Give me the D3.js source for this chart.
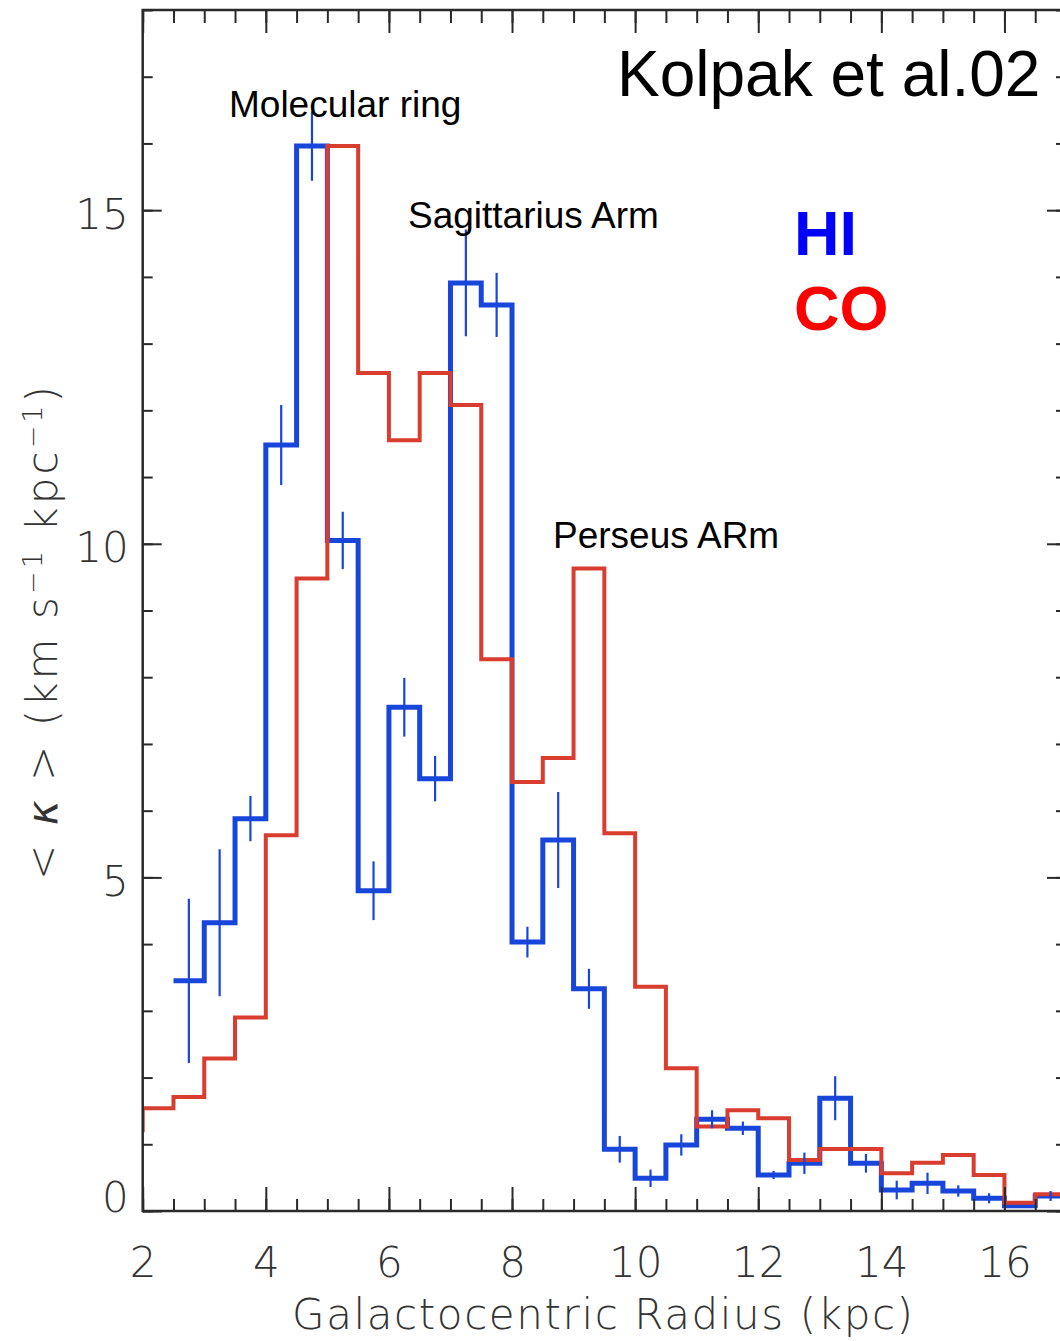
<!DOCTYPE html>
<html>
<head>
<meta charset="utf-8">
<script src="https://cdn.jsdelivr.net/npm/d3@7"></script>
<style>
  html, body { margin: 0; padding: 0; background: #ffffff; }
  svg { display: block; }
  .axis-font { font-family: "DejaVu Sans", "Liberation Sans", sans-serif; font-weight: 200; }
</style>
</head>
<body>
<div id="chart"></div>
<script>
// Mean HI (blue) and CO (red) kinematic signal per 0.5 kpc radial bin.
const hiBinStarts = [2.5, 3, 3.5, 4, 4.5, 5, 5.5, 6, 6.5, 7, 7.5, 8, 8.5, 9, 9.5,
                     10, 10.5, 11, 11.5, 12, 12.5, 13, 13.5, 14, 14.5, 15, 15.5, 16, 16.5];
const hiValues = [3.45, 4.32, 5.88, 11.48, 15.96, 10.05, 4.80, 7.55, 6.48, 13.91, 13.58, 4.03, 5.56, 3.33, 0.925,
                  0.49, 0.99, 1.375, 1.24, 0.54, 0.715, 1.69, 0.715, 0.315, 0.415, 0.30, 0.19, 0.08, 0.225];
const hiErrors = [1.23, 1.10, 0.34, 0.60, 0.52, 0.43, 0.44, 0.44, 0.34, 0.80, 0.48, 0.23, 0.72, 0.30, 0.20,
                  0.13, 0.16, 0.135, 0.10, 0.06, 0.16, 0.33, 0.14, 0.14, 0.16, 0.085, 0.075, 0, 0.075];

const coBinStarts = [1.5, 2, 2.5, 3, 3.5, 4, 4.5, 5, 5.5, 6, 6.5, 7, 7.5, 8, 8.5, 9, 9.5,
                     10, 10.5, 11, 11.5, 12, 12.5, 13, 13.5, 14, 14.5, 15, 15.5, 16, 16.5];
const coValues = [1.21, 1.54, 1.71, 2.285, 2.90, 5.63, 9.48, 15.96, 12.56, 11.55, 12.56, 12.08, 8.27, 6.43, 6.79, 9.63, 5.66,
                  3.36, 2.14, 1.265, 1.51, 1.39, 0.765, 0.93, 0.93, 0.565, 0.725, 0.84, 0.54, 0.125, 0.25];

const binWidth = 0.5;
const xMajorTicks = [2, 4, 6, 8, 10, 12, 14, 16];
const yMajorTicks = [0, 5, 10, 15];

const W = 1060, H = 1341;
const plotL = 142.7, plotR = 1066, plotT = 10, plotB = 1211;

const x = d3.scaleLinear().domain([2, 17]).range([plotL, plotR]);
const y = d3.scaleLinear().domain([0, 18]).range([plotB, plotT]);

const svg = d3.select("#chart").append("svg")
  .attr("width", W).attr("height", H)
  .style("background", "#fff");

svg.append("defs").append("clipPath").attr("id", "plot-clip")
  .append("rect").attr("x", plotL).attr("y", plotT)
  .attr("width", plotR - plotL).attr("height", plotB - plotT);

// Step outline for a histogram: each bin runs from its start to start + width.
function stepPoints(starts, values) {
  const pts = starts.map((s, i) => [s, values[i]]);
  pts.push([starts[starts.length - 1] + binWidth, values[values.length - 1]]);
  return pts;
}
const stepLine = d3.line()
  .x(d => x(d[0])).y(d => y(d[1]))
  .curve(d3.curveStepAfter);

const plot = svg.append("g").attr("clip-path", "url(#plot-clip)");

const blue = "#1846da";
const red = "#d83d2f";

plot.append("path")
  .datum(stepPoints(hiBinStarts, hiValues))
  .attr("d", stepLine)
  .attr("fill", "none").attr("stroke", blue)
  .attr("stroke-width", 5).attr("stroke-linejoin", "miter");

plot.append("path")
  .datum(stepPoints(coBinStarts, coValues))
  .attr("d", stepLine)
  .attr("fill", "none").attr("stroke", red)
  .attr("stroke-width", 4).attr("stroke-linejoin", "miter");

// HI uncertainties at bin centres
plot.append("g").selectAll("line")
  .data(hiBinStarts.map((s, i) => ({ c: s + binWidth / 2, v: hiValues[i], e: hiErrors[i] })).filter(d => d.e > 0))
  .join("line")
  .attr("x1", d => x(d.c)).attr("x2", d => x(d.c))
  .attr("y1", d => y(d.v - d.e)).attr("y2", d => y(d.v + d.e))
  .attr("stroke", blue).attr("stroke-width", 2.2);

// Axes: major and minor ticks on all four sides, pointing inward
const frameColor = "#2a2a2a";
const xMinor = d3.range(2, 17.01, 0.5);
const yMinor = d3.range(0, 18.01, 1);

function styleAxis(g) {
  g.select(".domain").remove();
  g.selectAll(".tick line").attr("stroke", frameColor).attr("stroke-width", 2);
}

svg.append("g").attr("transform", `translate(0,${plotB})`)
  .call(d3.axisBottom(x).tickValues(xMinor).tickSize(-12).tickFormat(""))
  .call(styleAxis);
const xb = svg.append("g").attr("transform", `translate(0,${plotB})`)
  .call(d3.axisBottom(x).tickValues(xMajorTicks).tickSize(-24).tickPadding(36).tickFormat(d3.format("d")))
  .call(styleAxis);
xb.selectAll("text").attr("class", "axis-font").attr("font-size", 42).attr("fill", "#333");

svg.append("g").attr("transform", `translate(0,${plotT})`)
  .call(d3.axisTop(x).tickValues(xMinor).tickSize(-13).tickFormat(""))
  .call(styleAxis);
svg.append("g").attr("transform", `translate(0,${plotT})`)
  .call(d3.axisTop(x).tickValues(xMajorTicks).tickSize(-23).tickFormat(""))
  .call(styleAxis);

svg.append("g").attr("transform", `translate(${plotL},0)`)
  .call(d3.axisLeft(y).tickValues(yMinor).tickSize(-10).tickFormat(""))
  .call(styleAxis);
const yl = svg.append("g").attr("transform", `translate(${plotL},0)`)
  .call(d3.axisLeft(y).tickValues(yMajorTicks).tickSize(-19).tickPadding(14).tickFormat(d3.format("d")))
  .call(styleAxis);
yl.selectAll("text").attr("class", "axis-font").attr("font-size", 42).attr("fill", "#333")
  .attr("dy", d => d === 0 ? "0.02em" : "0.43em");

svg.append("g").attr("transform", `translate(${plotR},0)`)
  .call(d3.axisRight(y).tickValues(yMinor).tickSize(-10).tickFormat(""))
  .call(styleAxis);
svg.append("g").attr("transform", `translate(${plotR},0)`)
  .call(d3.axisRight(y).tickValues(yMajorTicks).tickSize(-19).tickFormat(""))
  .call(styleAxis);

// Frame
svg.append("rect")
  .attr("x", plotL).attr("y", plotT)
  .attr("width", plotR - plotL).attr("height", plotB - plotT)
  .attr("fill", "none").attr("stroke", frameColor).attr("stroke-width", 2.5);

// Axis titles
svg.append("text").attr("class", "axis-font")
  .attr("x", 292).attr("y", 1329)
  .attr("font-size", 42).attr("fill", "#333")
  .attr("textLength", 621).attr("lengthAdjust", "spacing")
  .text("Galactocentric Radius (kpc)");

const ylab = svg.append("text").attr("class", "axis-font")
  .attr("transform", "translate(57,880) rotate(-90)")
  .attr("font-size", 42).attr("fill", "#333")
  .attr("textLength", 494).attr("lengthAdjust", "spacing");
ylab.append("tspan").text("< ");
ylab.append("tspan").attr("font-style", "italic").text("κ");
ylab.append("tspan").text(" >  (km  s");
ylab.append("tspan").attr("dy", -15).attr("font-size", 27).text("−1");
ylab.append("tspan").attr("dy", 15).text("  kpc");
ylab.append("tspan").attr("dy", -15).attr("font-size", 27).text("−1");
ylab.append("tspan").attr("dy", 15).text(")");

// Annotations
const note = (txt, px, py, size, opts = {}) => svg.append("text")
  .attr("x", px).attr("y", py)
  .attr("font-family", "'Liberation Sans', Arial, sans-serif")
  .attr("font-size", size)
  .attr("font-weight", opts.weight || "normal")
  .attr("fill", opts.fill || "#000")
  .text(txt);

note("Molecular ring", 229, 117, 37);
note("Sagittarius Arm", 408, 228, 37);
note("Perseus ARm", 553, 548, 37);
note("Kolpak et al.02", 617, 96, 64);
note("HI", 794, 255, 63, { weight: "bold", fill: "#0000ff" });
note("CO", 794, 330, 63, { weight: "bold", fill: "#ff0000" });
</script>
</body>
</html>
